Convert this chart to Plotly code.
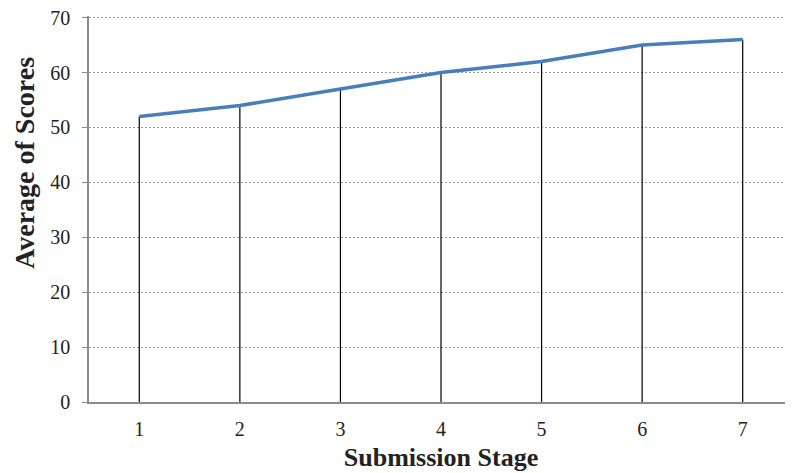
import plotly.graph_objects as go

stages = [1, 2, 3, 4, 5, 6, 7]
avg_scores = [52, 54, 57, 60, 62, 65, 66]
y_ticks = [0, 10, 20, 30, 40, 50, 60, 70]

SERIF = "Liberation Serif"

fig = go.Figure()

# drop lines from each point down to the axis
fig.add_trace(go.Scatter(
    x=stages, y=avg_scores, mode="markers",
    marker=dict(size=1, color="rgba(0,0,0,0)"),
    error_y=dict(type="data", symmetric=False,
                 array=[0] * len(avg_scores), arrayminus=avg_scores,
                 color="#000000", thickness=1.2, width=0),
    hoverinfo="skip", showlegend=False,
))

fig.add_trace(go.Scatter(
    x=stages, y=avg_scores, mode="lines",
    line=dict(color="#4A7EBB", width=3.5),
    showlegend=False,
))

fig.update_layout(
    width=785, height=465,
    margin=dict(l=81, r=0, t=8, b=71),
    paper_bgcolor="white", plot_bgcolor="white",
    font=dict(family=SERIF, size=20, color="#222222"),
    annotations=[dict(
        text="<b>Average of Scores</b>", textangle=-90,
        xref="paper", yref="paper", x=-0.092, y=0.62,
        xanchor="center", yanchor="middle", showarrow=False,
        font=dict(size=28, family=SERIF, color="#222222"),
    )],
)
fig.update_xaxes(
    range=[0.5, 7.5], tickvals=stages, ticktext=[str(s) for s in stages],
    tickfont=dict(family=SERIF, size=20, color="#222222"),
    showgrid=False, zeroline=False, showline=True, linecolor="#8c8c8c", linewidth=1.5,
    ticks="", ticklabelstandoff=8,
    title=dict(text="<b>Submission Stage</b>", font=dict(size=26, family=SERIF, color="#222222"), standoff=9),
)
fig.update_yaxes(
    range=[0, 70.3], tickvals=y_ticks, ticklabeloverflow="allow",
    tickfont=dict(family=SERIF, size=20, color="#222222"),
    showgrid=True, gridcolor="#9a9a9a", griddash="2px,2px", gridwidth=1,
    zeroline=False, showline=True, linecolor="#8c8c8c", linewidth=1.5,
    ticks="outside", ticklen=5, tickcolor="#8c8c8c", ticklabelstandoff=8,
)

fig.write_html("out.html")
